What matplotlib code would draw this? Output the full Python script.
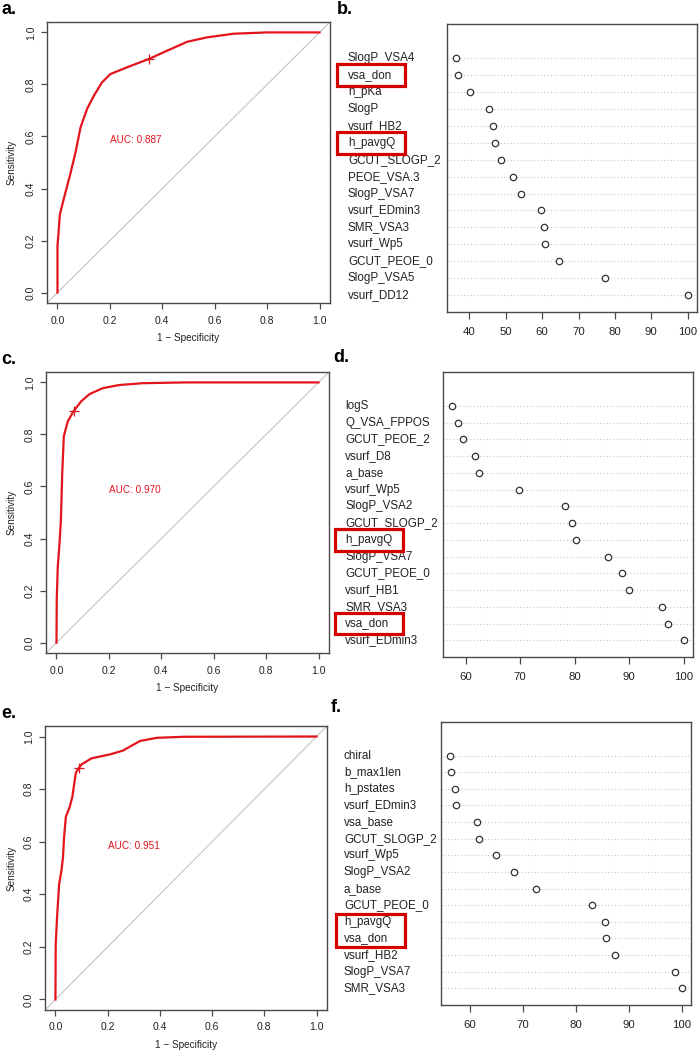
import matplotlib
matplotlib.use('Agg')
import matplotlib.pyplot as plt
from matplotlib.patches import Rectangle
from matplotlib import transforms

plt.rcParams['font.family'] = ['Liberation Sans', 'DejaVu Sans']

# ---------------- data ----------------
# ROC curves (1 - specificity, sensitivity)
roc_a_fpr = [0.0, 0.0, 0.004, 0.009, 0.024, 0.037, 0.05, 0.069, 0.088, 0.113, 0.139, 0.170,
             0.202, 0.266, 0.349, 0.419, 0.495, 0.571, 0.673, 0.80, 1.0]
roc_a_tpr = [0.0, 0.18, 0.23, 0.30, 0.36, 0.41, 0.46, 0.54, 0.635, 0.706, 0.757, 0.808,
             0.840, 0.866, 0.898, 0.930, 0.964, 0.981, 0.995, 1.0, 1.0]
best_a = (0.349, 0.898)
auc_a = "0.887"

roc_c_fpr = [0.0, 0.001, 0.005, 0.011, 0.017, 0.022, 0.028, 0.043, 0.065, 0.094, 0.126,
             0.177, 0.240, 0.33, 0.495, 1.0]
roc_c_tpr = [0.0, 0.166, 0.294, 0.371, 0.473, 0.652, 0.793, 0.850, 0.889, 0.927, 0.955,
             0.978, 0.990, 0.997, 1.0, 1.0]
best_c = (0.065, 0.889)
auc_c = "0.970"

roc_e_fpr = [0.0, 0.001, 0.006, 0.014, 0.023, 0.029, 0.033, 0.040, 0.055, 0.065, 0.078,
             0.090, 0.10, 0.138, 0.209, 0.26, 0.286, 0.324, 0.388, 0.49, 1.0]
roc_e_tpr = [0.0, 0.208, 0.31, 0.438, 0.49, 0.541, 0.618, 0.695, 0.733, 0.772, 0.862,
             0.881, 0.894, 0.917, 0.932, 0.947, 0.962, 0.983, 0.995, 0.999, 1.0]
best_e = (0.090, 0.881)
auc_e = "0.951"

# variable importance (top to bottom)
imp_b_labels = ["SlogP_VSA4", "vsa_don", "h_pKa", "SlogP", "vsurf_HB2", "h_pavgQ",
                "GCUT_SLOGP_2", "PEOE_VSA.3", "SlogP_VSA7", "vsurf_EDmin3", "SMR_VSA3",
                "vsurf_Wp5", "GCUT_PEOE_0", "SlogP_VSA5", "vsurf_DD12"]
imp_b_values = [36.4, 37.0, 40.3, 45.3, 46.5, 47.0, 48.6, 52.1, 54.1, 59.6, 60.5, 60.8,
                64.5, 77.4, 100.0]
imp_b_ticks = [40, 50, 60, 70, 80, 90, 100]
imp_b_marked = [["vsa_don"], ["h_pavgQ"]]

imp_d_labels = ["logS", "Q_VSA_FPPOS", "GCUT_PEOE_2", "vsurf_D8", "a_base", "vsurf_Wp5",
                "SlogP_VSA2", "GCUT_SLOGP_2", "h_pavgQ", "SlogP_VSA7", "GCUT_PEOE_0",
                "vsurf_HB1", "SMR_VSA3", "vsa_don", "vsurf_EDmin3"]
imp_d_values = [57.55, 58.6, 59.55, 61.7, 62.4, 69.8, 78.2, 79.6, 80.2, 86.2, 88.7, 90.0,
                96.0, 97.2, 100.0]
imp_d_ticks = [60, 70, 80, 90, 100]
imp_d_marked = [["h_pavgQ"], ["vsa_don"]]

imp_f_labels = ["chiral", "b_max1len", "h_pstates", "vsurf_EDmin3", "vsa_base",
                "GCUT_SLOGP_2", "vsurf_Wp5", "SlogP_VSA2", "a_base", "GCUT_PEOE_0",
                "h_pavgQ", "vsa_don", "vsurf_HB2", "SlogP_VSA7", "SMR_VSA3"]
imp_f_values = [56.35, 56.5, 57.2, 57.5, 61.4, 61.7, 65.0, 68.3, 72.6, 83.0, 85.5, 85.8,
                87.5, 98.8, 100.0]
imp_f_ticks = [60, 70, 80, 90, 100]
imp_f_marked = [["h_pavgQ", "vsa_don"]]

# ---------------- style ----------------
W, H = 700, 1050
RED = '#e3141b'
BOXRED = '#d40000'
FRAME = '#4a4a4a'
TXT = '#222222'

fig = plt.figure(figsize=(W / 100, H / 100), dpi=100)


def rect(x0, y0, x1, y1):
    return [x0 / W, 1 - y1 / H, (x1 - x0) / W, (y1 - y0) / H]


def style_frame(ax):
    for s in ax.spines.values():
        s.set_color(FRAME)
        s.set_linewidth(1.0)


def roc_panel(box, fpr, tpr, best, auc, letter):
    x0, y0, x1, y1 = box
    ax = fig.add_axes(rect(*box))
    ax.set_xlim(-0.04, 1.04)
    ax.set_ylim(-0.04, 1.04)
    ax.axline((0, 0), slope=1, color='#c4c4c4', lw=0.8, zorder=1)
    ax.plot(fpr, tpr, color=RED, lw=1.6, zorder=3, solid_joinstyle='round')
    ax.plot([best[0]], [best[1]], marker='+', ms=7, mew=0.9, color=RED, zorder=4)
    ax.text(0.3, 0.585, f"AUC: {auc}", color=RED, ha='center', va='center', fontsize=7.2)
    ticks = [0.0, 0.2, 0.4, 0.6, 0.8, 1.0]
    ax.set_xticks(ticks)
    ax.set_yticks(ticks)
    ax.set_xticklabels([f"{t:.1f}" for t in ticks])
    ax.set_yticklabels([f"{t:.1f}" for t in ticks], rotation=90, va='center')
    ax.tick_params(axis='both', direction='out', length=4, width=0.9, color=FRAME,
                   labelsize=7.5, labelcolor=TXT)
    ax.tick_params(axis='x', pad=5)
    ax.tick_params(axis='y', pad=4)
    style_frame(ax)
    fig.text(12 / W, 1 - ((y0 + y1) / 2) / H, "Sensitivity", rotation=90, ha='center',
             va='center', fontsize=7.2, color=TXT)
    fig.text(((x0 + x1) / 2) / W, 1 - (y1 + 35) / H, "1 \u2212 Specificity", ha='center',
             va='center', fontsize=7.2, color=TXT)
    fig.text(1 / W, 1 - (y0 - 12) / H, letter, ha='left', va='center', fontsize=13,
             fontweight='bold', color='black')
    return ax


def dot_panel(box, labels, values, ticks, marked, label_x, mark_x, pad, letter):
    x0, y0, x1, y1 = box
    ax = fig.add_axes(rect(*box))
    n = len(labels)
    ys = [n - i for i in range(n)]
    lo, hi = min(values), max(values)
    r = hi - lo
    ax.set_xlim(lo - 0.04 * r, hi + 0.04 * r)
    ax.set_ylim(0.0, n + 2.02)
    for y in ys:
        ax.axhline(y, color='#c8c8c8', lw=0.8, ls=(0, (1, 2)), zorder=1)
    ax.plot(values, ys, ls='none', marker='o', ms=4.6, mfc='white', mec='#333333',
            mew=0.9, zorder=3)
    ax.set_xticks(ticks)
    ax.set_xticklabels([str(t) for t in ticks])
    ax.set_yticks([])
    ax.tick_params(axis='x', direction='out', length=5, width=0.9, color=FRAME,
                   labelsize=8.2, labelcolor=TXT, pad=6)
    style_frame(ax)
    tr = transforms.blended_transform_factory(fig.transFigure, ax.transData)
    for lab, y in zip(labels, ys):
        ax.text(label_x / W, y, lab, transform=tr, ha='left', va='center', fontsize=8.4,
                color=TXT, clip_on=False)
    for group in marked:
        idx = [labels.index(g) for g in group]
        ytop = ys[min(idx)] + pad
        ybot = ys[max(idx)] - pad
        ax.add_patch(Rectangle((mark_x[0] / W, ybot), (mark_x[1] - mark_x[0]) / W,
                               ytop - ybot, transform=tr, fill=False, ec=BOXRED, lw=2.3,
                               clip_on=False, zorder=5))
    fig.text((x0 - 110) / W, 1 - (y0 - 14) / H, letter, ha='left', va='center',
             fontsize=13, fontweight='bold', color='black')
    return ax


roc_panel((47, 22, 330, 303), roc_a_fpr, roc_a_tpr, best_a, auc_a, "a.")
roc_panel((46, 372, 329, 653), roc_c_fpr, roc_c_tpr, best_c, auc_c, "c.")
roc_panel((45, 726, 327, 1010), roc_e_fpr, roc_e_tpr, best_e, auc_e, "e.")

dot_panel((447, 24, 697, 312), imp_b_labels, imp_b_values, imp_b_ticks, imp_b_marked,
          348, (337, 405), 0.65, "b.")
dot_panel((443, 372, 693, 657), imp_d_labels, imp_d_values, imp_d_ticks, imp_d_marked,
          345, (335, 403), 0.65, "d.")
dot_panel((441, 722, 691, 1005), imp_f_labels, imp_f_values, imp_f_ticks, imp_f_marked,
          344, (336, 405), 0.5, "f.")

fig.savefig("out.png", dpi=100, facecolor='white')
